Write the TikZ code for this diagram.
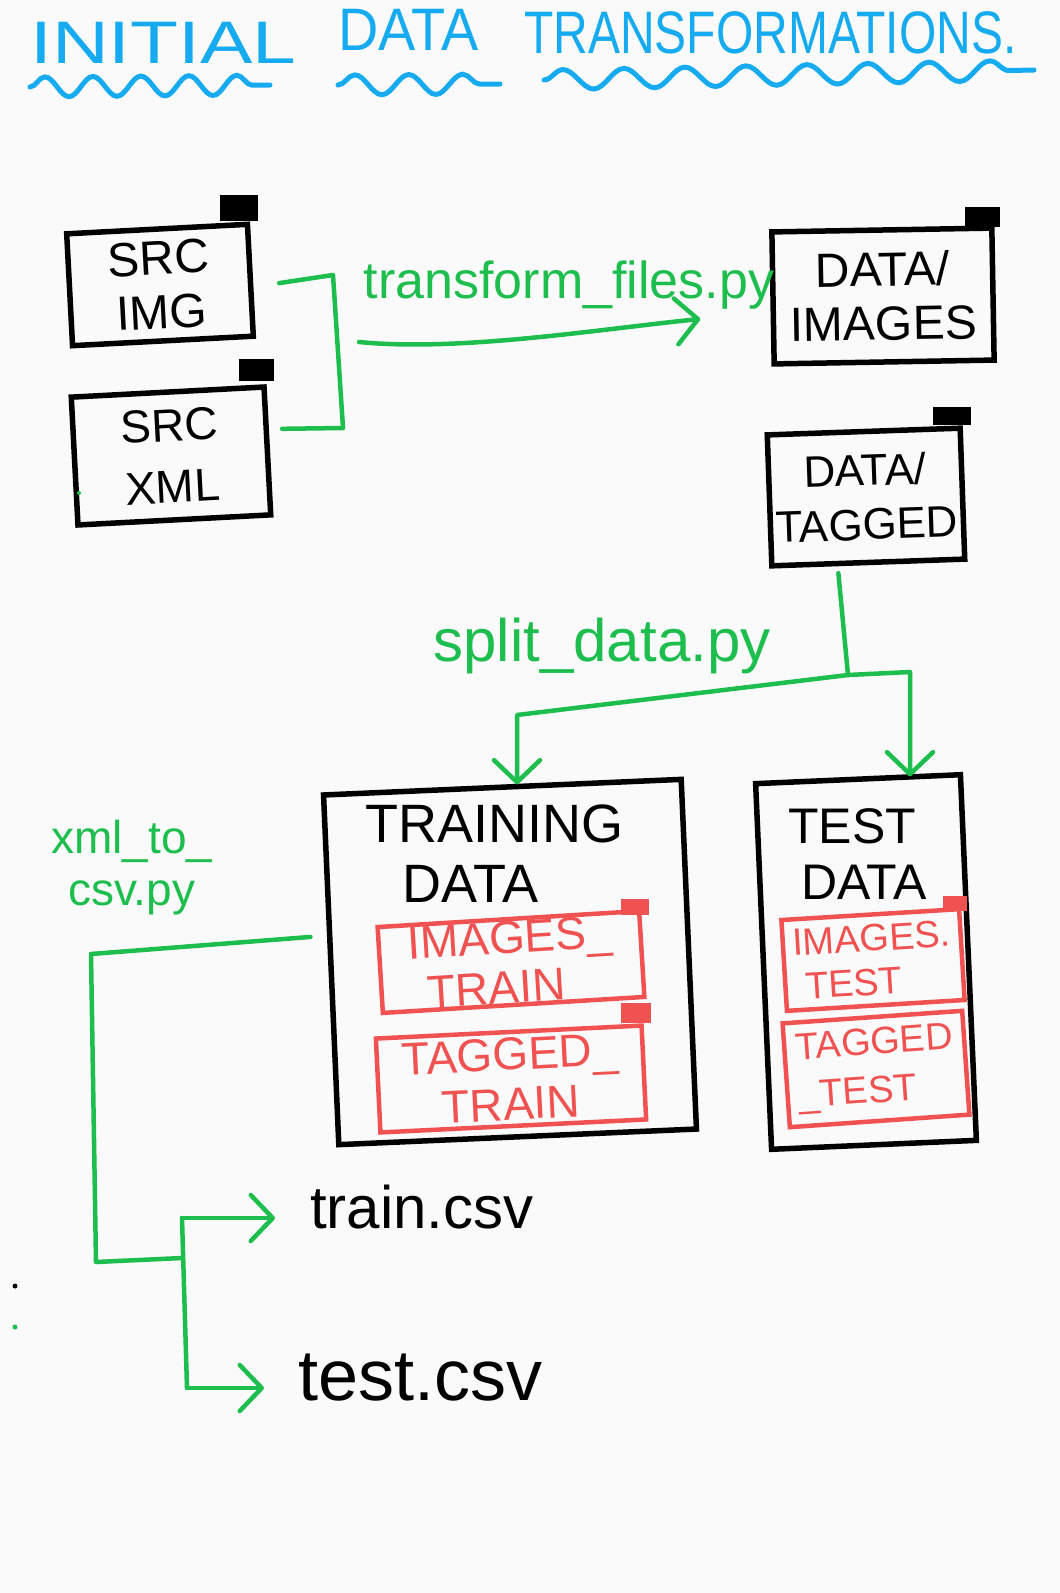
\documentclass[tikz,border=0pt]{standalone}
\usepackage{fontspec}
\setmainfont{Liberation Sans}
\usepackage{graphicx}
\usetikzlibrary{calc}
\usetikzlibrary{arrows.meta}
\usetikzlibrary{decorations.pathmorphing}

\definecolor{penblue}{RGB}{22,171,240}
\definecolor{pengreen}{RGB}{30,190,78}
\definecolor{penred}{RGB}{240,82,82}
\definecolor{paper}{RGB}{250,250,250}

\tikzset{
  folder/.style={draw, line width=5.5pt, inner sep=0pt, align=center},
  redfolder/.style={draw=penred, text=penred, line width=4.5pt, inner sep=0pt, align=left},
  handtext/.style={inner sep=0pt, align=left},
  greentext/.style={inner sep=0pt, text=pengreen, align=left},
  flow/.style={draw=pengreen, line width=4.5pt, line cap=round, line join=round},
  flowarrow/.style={flow, -{Straight Barb[length=22pt, width=46pt, round]}},
  wavy/.style={draw=penblue, line width=5pt, line cap=round, decorate, decoration={snake, amplitude=10pt, segment length=48pt}},
  titletext/.style={inner sep=0pt, text=penblue, font=\fontsize{60}{66}\selectfont, anchor=base west}
}

\begin{document}
\begin{tikzpicture}[x=1pt, y=-1pt]
        \useasboundingbox (0,0) rectangle (1060,1593);
        \fill[paper] (0,0) rectangle (1060,1593);

        % title
        \node[titletext] (tinitial) at (30,63) {\scalebox{1.31}[1]{INITIAL}};
        \node[titletext] (tdata) at (338,50) {\scalebox{0.93}[1]{DATA}};
        \node[titletext] (ttrans) at (524,53) {\scalebox{0.8}[1]{TRANSFORMATIONS.}};
        \draw[wavy] (30,87) -- (270,85);
        \draw[wavy, decoration={segment length=54pt}] (338,85) -- (500,84);
        \draw[wavy, decoration={segment length=61pt}] (544,80) -- (1034,70);

        % source folders
        \node[folder, minimum width=181pt, minimum height=112pt, rotate=3, font=\fontsize{48}{54}\selectfont] (srcimg) at (160,285) {SRC\\IMG};
        \node[folder, minimum width=193pt, minimum height=128pt, rotate=3, font=\fontsize{46}{62}\selectfont] (srcxml) at (171,456) {SRC\\XML};
        \fill ($(srcimg.north east)+(-30,0)$) rectangle ++(38,-26);
        \fill ($(srcxml.north east)+(-28,-3)$) rectangle ++(35,-22);

        \node[folder, minimum width=220pt, minimum height=132pt, rotate=1, font=\fontsize{48}{54}\selectfont] (dataimg) at (883,296) {DATA/\\IMAGES};
        \node[folder, minimum width=193pt, minimum height=131pt, rotate=2, font=\fontsize{44}{54}\selectfont] (datatag) at (866,497) {DATA/\\TAGGED};
        \fill ($(dataimg.north east)+(-30,2)$) rectangle ++(35,-20);
        \fill ($(datatag.north east)+(-30,0)$) rectangle ++(38,-18);

        % split folders
        \node[folder, minimum width=358pt, minimum height=350pt, rotate=2.5] (trainbox) at (510,962) {};
        \node[folder, minimum width=205pt, minimum height=366pt, rotate=2.5] (testbox) at (866,962) {};
        \node[handtext, font=\fontsize{54}{60}\selectfont, anchor=west] (trainlabel) at (365,854) {TRAINING\\\hspace*{37pt}DATA};
        \node[handtext, font=\fontsize{50}{56}\selectfont, anchor=west] (testlabel) at (788,854) {TEST\\\hspace*{13pt}DATA};

        \node[redfolder, minimum width=262pt, minimum height=86pt, rotate=3.5, font=\fontsize{46}{50}\selectfont] (imgtrain) at (511,962) {IMAGES\_\\\hspace*{17pt}TRAIN};
        \node[redfolder, minimum width=266pt, minimum height=94pt, rotate=2.8, font=\fontsize{46}{50}\selectfont] (tagtrain) at (511,1079) {TAGGED\_\\\hspace*{38pt}TRAIN};
        \node[redfolder, minimum width=178pt, minimum height=91pt, rotate=3.5, font=\fontsize{38}{44}\selectfont] (imgtest) at (873,960) {IMAGES.\\\hspace*{10pt}TEST};
        \node[redfolder, minimum width=180pt, minimum height=104pt, rotate=4, font=\fontsize{38}{48}\selectfont] (tagtest) at (876,1069) {TAGGED\\\_TEST};
        \fill[penred] ($(imgtrain.north east)+(-20,6)$) rectangle ++(28,-16);
        \fill[penred] ($(tagtrain.north east)+(-23,0)$) rectangle ++(30,-20);
        \fill[penred] ($(imgtest.north east)+(-18,4)$) rectangle ++(24,-15);

        % scripts
        \node[greentext, font=\fontsize{52}{52}\selectfont, anchor=base] (trlabel) at (569,298) {transform\_files.py};
        \node[greentext, font=\fontsize{60}{60}\selectfont, anchor=base] (splitlabel) at (602,661) {split\_data.py};
        \node[greentext, font=\fontsize{46}{52}\selectfont, anchor=west] (xmllabel) at (51,868) {xml\_to\_\\\hspace*{17pt}csv.py};

        \node[handtext, font=\fontsize{60}{60}\selectfont, anchor=base west] (traincsv) at (310,1228) {train.csv};
        \node[handtext, font=\fontsize{72}{72}\selectfont, anchor=base west] (testcsv) at (298,1400) {test.csv};

        % connectors
        \coordinate (brtop) at (333,275);
        \coordinate (brbot) at (343,428);
        \coordinate (trstart) at (359,342);
        \draw[flow] ($(srcimg.east)+(26,3)$) -- (brtop) -- (brbot) -- ($(srcxml.east)+(12,-22)$);
        \draw[flowarrow] (trstart) .. controls (460,352) and (600,329) .. ($(dataimg.west)+(-70,21)$);

        \coordinate (split) at (848,675);
        \coordinate (rbend) at (910,672);
        \coordinate (lbend) at (517,715);
        \draw[flow] ($(datatag.south)+(-30,8)$) -- (split);
        \draw[flowarrow] (split) -- (rbend) -- (rbend |- testbox.north);
        \draw[flowarrow] (split) -- (lbend) -- (lbend |- trainbox.north);

        \coordinate (xcorner) at (91,954);
        \coordinate (xlow) at (96,1262);
        \coordinate (forkmid) at (182,1258);
        \coordinate (forktop) at (182,1218);
        \coordinate (forkbot) at (187,1388);
        \draw[flow] ($(trainbox.west)+(-18,-33)$) -- (xcorner) -- (xlow) -- (forkmid);
        \draw[flow] (forktop) -- (forkbot);
        \draw[flowarrow, shorten >=35pt] (forktop) -- (forktop -| traincsv.west);
        \draw[flowarrow, shorten >=34pt] (forkbot) -- (forkbot -| testcsv.west);

        \fill (15,1286) circle (2.5);
        \fill[pengreen] (15,1327) circle (2.5);
        \fill[pengreen] (79,493) circle (2);
    \end{tikzpicture}
\end{document}
